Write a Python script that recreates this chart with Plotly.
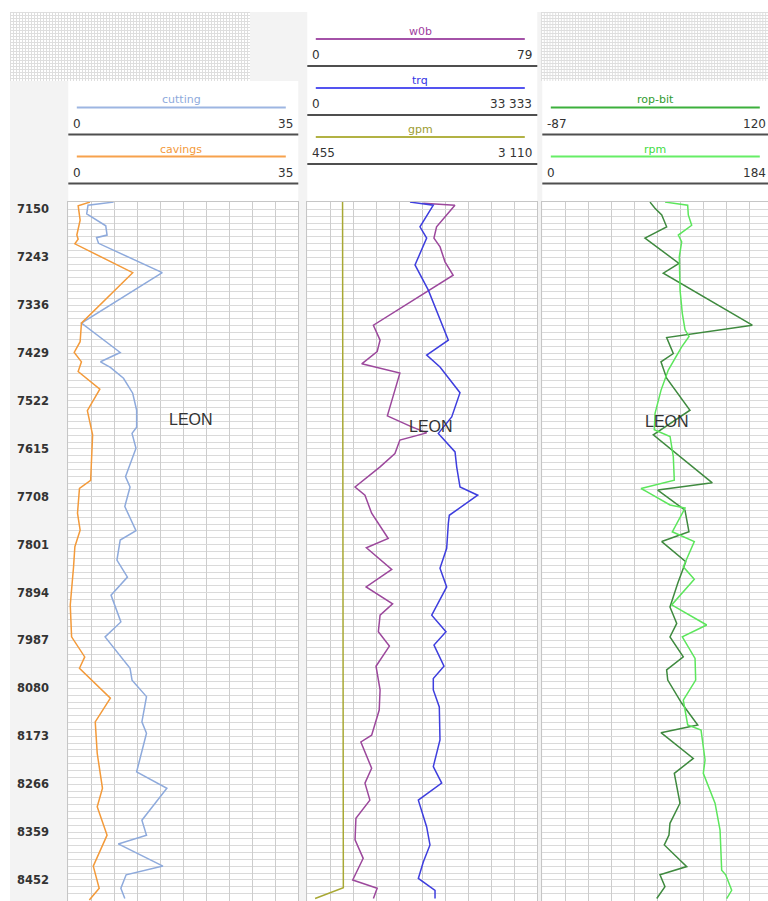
import base64
import plotly.graph_objects as go

# ---------------- well data (depth in ft) ----------------
cutting_depth = [7136, 7142, 7159, 7182, 7200, 7205, 7216, 7273, 7371, 7428, 7446, 7457, 7478, 7507,
                 7540, 7573, 7585, 7614, 7669, 7689, 7727, 7774, 7792, 7831, 7864, 7899, 7951, 7980,
                 8041, 8064, 8096, 8145, 8167, 8242, 8274, 8336, 8365, 8382, 8425, 8442, 8468, 8488]
cutting = [6.9, 3.0, 2.8, 5.7, 5.9, 4.3, 4.6, 14.3, 2.0, 7.9, 4.9, 6.4, 8.4, 9.8,
           10.4, 10.4, 9.7, 10.3, 8.7, 9.4, 8.6, 10.3, 7.9, 7.4, 9.0, 6.5, 8.0, 5.6,
           9.4, 9.7, 11.9, 11.2, 11.9, 10.4, 15.0, 11.2, 11.9, 7.6, 14.4, 8.8, 8.0, 8.6]

cavings_depth = [7136, 7143, 7171, 7200, 7208, 7217, 7273, 7371, 7407, 7428, 7446, 7465, 7499, 7541,
                 7588, 7676, 7692, 7740, 7773, 7805, 7844, 7918, 7980, 8019, 8041, 8099, 8145, 8206,
                 8274, 8310, 8365, 8425, 8468, 8491]
cavings = [3.3, 1.5, 1.8, 1.3, 1.5, 1.0, 9.8, 2.0, 1.8, 0.9, 2.0, 1.5, 4.8, 2.9,
           3.7, 3.4, 1.7, 1.4, 1.8, 1.0, 0.8, 0.3, 0.5, 2.5, 1.7, 6.4, 4.1, 4.4,
           5.2, 4.4, 5.9, 3.8, 4.7, 3.2]

w0b_depth = [7138, 7142, 7184, 7206, 7223, 7252, 7278, 7375, 7404, 7426, 7450, 7468, 7551, 7571,
             7584, 7598, 7624, 7650, 7689, 7705, 7740, 7789, 7807, 7849, 7883, 7916, 7938, 7970,
             7998, 8037, 8083, 8122, 8171, 8184, 8235, 8264, 8297, 8332, 8374, 8410, 8452, 8468, 8488]
w0b = [39.8, 50.7, 44.4, 43.5, 45.6, 47.3, 50.1, 22.7, 25.0, 24.0, 18.7, 31.8, 27.5, 35.3,
       41.0, 31.8, 30.1, 25.0, 16.4, 19.8, 22.1, 27.8, 20.3, 29.0, 20.2, 29.3, 25.0, 24.4,
       28.2, 23.6, 25.0, 24.7, 22.1, 18.4, 22.1, 19.8, 21.5, 16.7, 16.4, 19.2, 15.6, 24.0, 22.7]

trq_depth = [7136, 7142, 7184, 7206, 7258, 7307, 7404, 7433, 7456, 7506, 7553, 7585, 7621, 7650,
             7689, 7705, 7744, 7760, 7808, 7847, 7883, 7938, 7970, 7996, 8037, 8061, 8083, 8116,
             8180, 8232, 8264, 8297, 8349, 8384, 8417, 8449, 8472, 8488]
trq = [14880, 18260, 16330, 17300, 15610, 17540, 20440, 17300, 19230, 22130, 20930, 18990, 21410, 21650,
       22130, 24700, 20580, 20440, 20200, 19230, 20200, 18030, 20100, 18360, 19810, 18260, 18260, 19130,
       19230, 18260, 19480, 16090, 17300, 17780, 16810, 16090, 18510, 18510]

gpm_depth = [7136, 7330, 7390, 7420, 7700, 8100, 8467, 8488]
gpm = [862, 864, 868, 866, 868, 870, 871, 545]

rop_depth = [7136, 7148, 7161, 7184, 7206, 7255, 7274, 7375, 7399, 7430, 7446, 7478, 7540, 7588,
             7681, 7695, 7734, 7776, 7795, 7834, 7876, 7922, 7954, 7980, 8019, 8044, 8064, 8109,
             8151, 8166, 8216, 8245, 8303, 8342, 8365, 8384, 8426, 8442, 8465, 8488]
rop_bit = [9.9, 14.4, 20.5, 24.9, 5.4, 36.0, 21.9, 102.0, 24.9, 30.9, 19.8, 24.9, 45.9, 12.9,
           66.0, 16.9, 41.4, 45.0, 20.5, 42.1, 34.9, 27.9, 34.0, 27.9, 39.9, 24.9, 25.9, 38.5,
           52.9, 19.8, 48.9, 31.8, 36.9, 27.9, 27.0, 22.8, 43.0, 18.9, 23.4, 16.0]

rpm_depth = [7136, 7142, 7161, 7181, 7200, 7213, 7242, 7307, 7352, 7384, 7397, 7417, 7462, 7501,
             7546, 7578, 7591, 7630, 7676, 7692, 7698, 7724, 7730, 7776, 7795, 7844, 7868, 7918,
             7957, 7980, 8022, 8064, 8103, 8151, 8161, 8219, 8245, 8303, 8355, 8433, 8442, 8472, 8488]
rpm = [98.2, 116.3, 116.8, 119.5, 108.8, 111.5, 109.6, 110.2, 112.0, 114.2, 117.4, 111.5, 100.8, 95.0,
       90.2, 89.6, 102.2, 104.8, 105.6, 79.0, 83.5, 102.2, 114.2, 104.0, 121.6, 112.8, 121.6, 103.5,
       131.5, 112.0, 122.2, 122.7, 112.8, 116.3, 127.0, 130.2, 128.8, 138.2, 142.2, 143.5, 146.7, 151.5, 147.5]

# curve scales (min, max) and label text
track1_curves = [("cutting", "#8eaadc", "#9db6e2", 0, 35, "0", "35"),
                 ("cavings", "#f39a3a", "#f7a24c", 0, 35, "0", "35")]
track2_curves = [("w0b", "#a040a0", "#a452a8", 0, 79, "0", "79"),
                 ("trq", "#3434e4", "#5454f0", 0, 33333, "0", "33 333"),
                 ("gpm", "#9c9c30", "#b2b244", 455, 3110, "455", "3 110")]
track3_curves = [("rop-bit", "#2f9c2f", "#3cb03c", -87, 120, "-87", "120"),
                 ("rpm", "#3fdc3f", "#66ee66", 0, 184, "0", "184")]

depth_top, depth_bottom = 7135.8, 8492.8
depth_tick0, depth_step = 7150, 93
formation = "LEON"
formation_depths = [7559, 7571, 7562]

# ---------------- page geometry (pixels) ----------------
W, H = 768, 901
PLOT_TOP = 202
tracks_px = [(68.3, 298.3), (307.3, 537.3), (542.3, 772.3)]
visible_right = W


def fx(x):
    return x / W


def fy(y):
    return 1 - y / H


fig = go.Figure()

line_w = 1.5
fig.add_trace(go.Scatter(x=cutting, y=cutting_depth, xaxis="x", yaxis="y",
                         line=dict(color="#8eaadc", width=line_w)))
fig.add_trace(go.Scatter(x=cavings, y=cavings_depth, xaxis="x4", yaxis="y",
                         line=dict(color="#f39a3a", width=line_w)))
fig.add_trace(go.Scatter(x=gpm, y=gpm_depth, xaxis="x6", yaxis="y2",
                         line=dict(color="#a8a834", width=line_w)))
fig.add_trace(go.Scatter(x=w0b, y=w0b_depth, xaxis="x2", yaxis="y2",
                         line=dict(color="#9c489c", width=line_w)))
fig.add_trace(go.Scatter(x=trq, y=trq_depth, xaxis="x5", yaxis="y2",
                         line=dict(color="#3e3ede", width=line_w)))
fig.add_trace(go.Scatter(x=rpm, y=rpm_depth, xaxis="x7", yaxis="y3",
                         line=dict(color="#5ce65c", width=line_w)))
fig.add_trace(go.Scatter(x=rop_bit, y=rop_depth, xaxis="x3", yaxis="y3",
                         line=dict(color="#3f8a3f", width=line_w)))
fig.update_traces(mode="lines", showlegend=False, hoverinfo="skip")

grid_v = "#cdcdcd"
grid_h = "#dadada"
frame = "#c6c6c6"


def track_xaxis(i, lo, hi, anchor):
    left, right = tracks_px[i]
    dom_right = min(right, visible_right)
    frac = (dom_right - left) / (right - left)
    return dict(domain=[fx(left), fx(dom_right)], range=[lo, lo + (hi - lo) * frac],
                tickmode="linear", tick0=lo, dtick=(hi - lo) / 10, showgrid=True,
                gridcolor=grid_v, gridwidth=1, zeroline=False, showline=True, mirror=True,
                linecolor=frame, linewidth=1, ticks="", showticklabels=False,
                anchor=anchor, fixedrange=True)


def overlay_xaxis(i, lo, hi, over, anchor):
    left, right = tracks_px[i]
    dom_right = min(right, visible_right)
    frac = (dom_right - left) / (right - left)
    return dict(overlaying=over, anchor=anchor, range=[lo, lo + (hi - lo) * frac],
                visible=False, fixedrange=True)


def depth_axis(anchor, labels):
    ax = dict(domain=[0, fy(PLOT_TOP)], range=[depth_bottom, depth_top], anchor=anchor,
              tickmode="linear", tick0=depth_tick0, dtick=depth_step, showgrid=True,
              gridcolor=grid_h, gridwidth=1, zeroline=False, showline=True, mirror=True,
              linecolor=frame, linewidth=1, ticks="", fixedrange=True,
              minor=dict(tick0=depth_tick0, dtick=depth_step / 7, showgrid=True,
                         gridcolor=grid_h, gridwidth=1),
              showticklabels=labels)
    if labels:
        ax.update(tickfont=dict(family="DejaVu Sans", size=11.5, color="#333333", weight="bold"),
                  ticklabelstandoff=16)
    else:
        ax.update(matches="y")
    return ax


fig.update_layout(
    width=W, height=H, margin=dict(l=0, r=0, t=0, b=0, pad=0),
    paper_bgcolor="#f3f3f3", plot_bgcolor="#ffffff",
    xaxis=track_xaxis(0, 0, 35, "y"),
    xaxis2=track_xaxis(1, 0, 79, "y2"),
    xaxis3=track_xaxis(2, -87, 120, "y3"),
    xaxis4=overlay_xaxis(0, 0, 35, "x", "y"),
    xaxis5=overlay_xaxis(1, 0, 33333, "x2", "y2"),
    xaxis6=overlay_xaxis(1, 455, 3110, "x2", "y2"),
    xaxis7=overlay_xaxis(2, 0, 184, "x3", "y3"),
    yaxis=depth_axis("x", True),
    yaxis2=depth_axis("x2", False),
    yaxis3=depth_axis("x3", False),
)

shapes = []
annotations = []


def rect(x0, y0, x1, y1, color):
    shapes.append(dict(type="rect", xref="paper", yref="paper", x0=fx(x0), x1=fx(x1),
                       y0=fy(y1), y1=fy(y0), fillcolor=color, line=dict(width=0), layer="below"))


def hline(x0, x1, y, color, width):
    shapes.append(dict(type="line", xref="paper", yref="paper", x0=fx(x0), x1=fx(x1),
                       y0=fy(y), y1=fy(y), line=dict(color=color, width=width), layer="above"))


def text(s, x, y, color, size, anchor="center"):
    annotations.append(dict(text=s, xref="paper", yref="paper", x=fx(x), y=fy(y),
                            xanchor=anchor, yanchor="middle", showarrow=False, borderpad=0,
                            font=dict(family="DejaVu Sans", size=size, color=color)))


# white page edges
rect(0, 0, W, 12, "#ffffff")
rect(0, 0, 10, H, "#ffffff")

# header panels
rect(tracks_px[0][0], 81, tracks_px[0][1], PLOT_TOP, "#ffffff")
rect(tracks_px[1][0], 12, tracks_px[1][1], PLOT_TOP, "#ffffff")
rect(tracks_px[2][0], 81, W, PLOT_TOP, "#ffffff")

# fine mesh panels above tracks 1 and 3
mesh_svg = ('<svg xmlns="http://www.w3.org/2000/svg" width="240" height="69">'
            '<defs><pattern id="m" width="3" height="3" patternUnits="userSpaceOnUse">'
            '<rect width="3" height="3" fill="#ffffff"/>'
            '<rect width="3" height="1" fill="#dedede"/>'
            '<rect width="1" height="3" fill="#dedede"/></pattern></defs>'
            '<rect width="240" height="69" fill="url(#m)"/></svg>')
mesh_src = "data:image/svg+xml;base64," + base64.b64encode(mesh_svg.encode()).decode()
images = []
for x0, x1 in [(10, 250), (541, W)]:
    images.append(dict(source=mesh_src, xref="paper", yref="paper", x=fx(x0), y=fy(12),
                       sizex=fx(x1 - x0), sizey=69 / H, xanchor="left", yanchor="top",
                       sizing="stretch", layer="below"))


def curve_headers(track, curves, first_row):
    left, right = tracks_px[track]
    right_text = min(right - 4.5, visible_right - 1.5)
    for k, (name, tcolor, lcolor, lo, hi, lo_txt, hi_txt) in enumerate(curves):
        t = first_row + 49 * k
        l0, l1 = left + 8.5, right - 12.5
        text(name, (l0 + l1) / 2, t, tcolor, 11)
        hline(l0, l1, t + 7.5, lcolor, 2)
        text(lo_txt, left + 3.5, t + 23.5, "#333333", 12, "left")
        text(hi_txt, right_text, t + 23.5, "#333333", 12, "right")
        hline(left, right, t + 34.5, "#4f4f4f", 2)


curve_headers(0, track1_curves, 100)
curve_headers(1, track2_curves, 31.5)
curve_headers(2, track3_curves, 100)

# formation tops
for (xr, yr, xf), d in zip([("x domain", "y", 0.535), ("x2 domain", "y2", 0.536),
                            ("x3 domain", "y3", 0.551)], formation_depths):
    annotations.append(dict(text=formation, xref=xr, yref=yr, x=xf, y=d, xanchor="center",
                            yanchor="middle", showarrow=False,
                            font=dict(family="Liberation Sans", size=16, color="#333333")))

fig.update_layout(shapes=shapes, annotations=annotations, images=images)

fig.write_html("out.html")
